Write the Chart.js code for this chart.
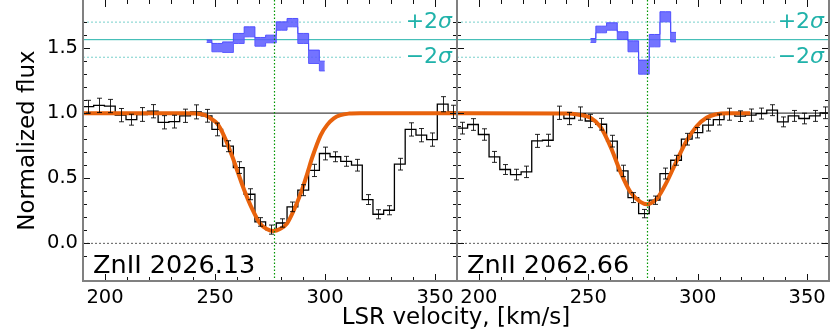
<!DOCTYPE html>
<html>
<head>
<meta charset="utf-8">
<script src="https://cdn.jsdelivr.net/npm/chart.js@4.4.1/dist/chart.umd.min.js"></script>
<style>
  html, body { margin: 0; padding: 0; background: #fff; }
  #wrap { position: relative; width: 830px; height: 332px; overflow: hidden; }
  canvas { position: absolute; top: 0; }
  #leftPanel { left: 0; }
  #rightPanel { left: 83px; }
</style>
</head>
<body>
<div id="wrap">
  <canvas id="leftPanel" width="460" height="332"></canvas>
  <canvas id="rightPanel" width="747" height="332"></canvas>
</div>
<script>
// velocity bin centres (km/s), same grid for both transitions
const velocity = [187.5, 192.4, 197.3, 202.2, 207.1, 212.0, 216.9, 221.7, 226.6, 231.5,
    236.4, 241.3, 246.2, 251.0, 255.9, 260.8, 265.7, 270.6, 275.4, 280.3,
    285.2, 290.1, 295.0, 299.9, 304.7, 309.6, 314.5, 319.4, 324.2, 329.1,
    334.0, 338.9, 343.8, 348.6, 353.5, 358.4, 363.3];

// ZnII 2026.13
const flux2026 = [1.05, 1.05, 1.06, 1.055, 0.985, 0.95, 0.99, 1.015, 0.93, 0.935,
    0.98, 1.01, 0.98, 0.875, 0.746, 0.582, 0.377, 0.164, 0.105, 0.156,
    0.28, 0.408, 0.56, 0.69, 0.665, 0.63, 0.6, 0.336, 0.223, 0.254,
    0.608, 0.875, 0.831, 0.797, 1.069, 1.01, 1.0];
const err2026 = [0.05, 0.049, 0.055, 0.051, 0.051, 0.042, 0.053, 0.051, 0.051, 0.049,
    0.051, 0.054, 0.049, 0.049, 0.042, 0.045, 0.042, 0.033, 0.035, 0.032,
    0.037, 0.042, 0.047, 0.049, 0.038, 0.038, 0.045, 0.038, 0.035, 0.035,
    0.045, 0.051, 0.051, 0.051, 0.058, 0.051, 0.05];

// ZnII 2062.66
const flux2062 = [0.885, 0.885, 0.913, 0.836, 0.664, 0.567, 0.528, 0.549, 0.787, 0.792,
    1.003, 0.959, 0.997, 0.94, 0.915, 0.785, 0.556, 0.351, 0.228, 0.331,
    0.536, 0.638, 0.80, 0.85, 0.908, 0.951, 0.992, 0.977, 0.985, 0.997,
    1.023, 0.933, 0.979, 0.959, 0.979, 1.003, 1.0];
const err2062 = [0.045, 0.045, 0.045, 0.044, 0.042, 0.038, 0.041, 0.044, 0.05, 0.046,
    0.051, 0.047, 0.051, 0.051, 0.045, 0.045, 0.044, 0.038, 0.032, 0.032,
    0.042, 0.038, 0.045, 0.04, 0.045, 0.042, 0.046, 0.041, 0.047, 0.042,
    0.042, 0.038, 0.042, 0.041, 0.042, 0.045, 0.045];

// fitted profiles
const modelVel2026 = [190, 236, 241, 245.5, 248, 251, 254, 257.9, 260.5, 263.3, 267, 270.5, 273.5,
    276.6, 279.5, 282.7, 286, 289.5, 292, 294.3, 298, 301, 304, 307, 311, 316, 360];
const model2026 = [1.0, 1.0, 0.997, 0.985, 0.96, 0.92, 0.83, 0.665, 0.54, 0.408, 0.26, 0.151, 0.11,
    0.095, 0.11, 0.151, 0.26, 0.408, 0.54, 0.665, 0.83, 0.91, 0.96, 0.985, 0.997, 1.0, 1.0];
const modelVel2062 = [190, 240, 245, 251, 255.6, 260.2, 264.7, 269.2, 273.8, 276.8,
    281.4, 285.9, 290.5, 295, 299.5, 304, 308, 314, 324];
const model2062 = [1.0, 0.997, 0.99, 0.965, 0.895, 0.741, 0.549, 0.395, 0.318, 0.3,
    0.344, 0.472, 0.638, 0.79, 0.9, 0.965, 0.99, 1.0, 1.0];

// residual bands (shifted up to 1.565)
const residVel2026 = [246.2, 251.0, 255.9, 260.8, 265.7, 270.6, 275.4, 280.3, 285.2, 290.1, 295.0, 299.9];
const residHigh2026 = [1.562, 1.536, 1.548, 1.613, 1.664, 1.582, 1.600, 1.702, 1.728, 1.613, 1.485, 1.400];
const residLow2026 = [1.544, 1.472, 1.467, 1.536, 1.587, 1.515, 1.541, 1.638, 1.664, 1.536, 1.382, 1.325];
const residVel2062 = [251.0, 255.9, 260.8, 265.7, 270.6, 275.4, 280.3, 285.2, 290.1];
const residHigh2062 = [1.574, 1.669, 1.695, 1.626, 1.556, 1.408, 1.605, 1.780, 1.621];
const residLow2062 = [1.544, 1.618, 1.638, 1.567, 1.472, 1.300, 1.510, 1.702, 1.548];

const xTickLabels = [200, 250, 300, 350];
const yTickLabels = [0.0, 0.5, 1.0, 1.5];
const xMin = 190, xMax = 360, yMin = -0.29, yMax = 1.87;
const lineCentre = 276.7;
const residMid = 1.565, residPlus = 1.70, residMinus = 1.43, residLineEnd = 335.5;

const FONT = "'DejaVu Sans', sans-serif";
Chart.defaults.font.family = FONT;
Chart.defaults.color = '#000';

const TEAL = '#20b2aa';
const ORANGE = '#e8620c';

function pts(xs, ys) {
    return xs.map((v, i) => ({x: v, y: ys[i]}));
}

function flat(yv, x0, x1) {
    return [{x: x0, y: yv}, {x: x1, y: yv}];
}

// "+2" upright, sigma italic like mathtext, right aligned at xr
function sigmaLabel(ctx, prefix, xr, yc) {
    const up = '22px ' + FONT, it = 'italic 22px ' + FONT;
    ctx.font = it;
    const ws = ctx.measureText('\u03c3').width;
    ctx.font = up;
    const wp = ctx.measureText(prefix).width;
    ctx.textAlign = 'left';
    ctx.fillText(prefix, xr - ws - wp, yc);
    ctx.font = it;
    ctx.fillText('\u03c3', xr - ws, yc);
}

// error bars, line centre, frame with inward ticks, labels
function decor(spec) {
    return {
        id: 'decor',
        afterDatasetsDraw(chart) {
            const {ctx, chartArea: a, scales: {x, y}} = chart;
            ctx.save();
            ctx.beginPath();
            ctx.rect(a.left, a.top, a.right - a.left, a.bottom - a.top);
            ctx.clip();
            ctx.strokeStyle = 'rgba(0,0,0,0.85)';
            ctx.lineWidth = 1;
            spec.vel.forEach((v, i) => {
                if (v < xMin || v > xMax) return;
                const px = Math.round(x.getPixelForValue(v)) + 0.5;
                const y1 = y.getPixelForValue(spec.flux[i] + spec.err[i]);
                const y2 = y.getPixelForValue(spec.flux[i] - spec.err[i]);
                ctx.beginPath();
                ctx.moveTo(px, y1); ctx.lineTo(px, y2);
                ctx.moveTo(px - 2.5, y1); ctx.lineTo(px + 2.5, y1);
                ctx.moveTo(px - 2.5, y2); ctx.lineTo(px + 2.5, y2);
                ctx.stroke();
            });
            // line centre
            const cx = Math.round(x.getPixelForValue(lineCentre)) + 0.5;
            ctx.strokeStyle = 'rgb(0,150,0)';
            ctx.lineWidth = 1.2;
            ctx.setLineDash([1.5, 2]);
            ctx.beginPath();
            ctx.moveTo(cx, a.top); ctx.lineTo(cx, a.bottom);
            ctx.stroke();
            ctx.setLineDash([]);
            // labels
            ctx.fillStyle = '#000';
            ctx.font = '25.5px ' + FONT;
            ctx.textAlign = 'left';
            ctx.textBaseline = 'alphabetic';
            ctx.fillText(spec.label, a.left + 10, a.bottom - 8);
            ctx.fillStyle = TEAL;
            ctx.textBaseline = 'middle';
            sigmaLabel(ctx, '+2', a.right - 5, y.getPixelForValue(residPlus));
            sigmaLabel(ctx, '\u22122', a.right - 5, y.getPixelForValue(residMinus));
            ctx.restore();
        },
        afterDraw(chart) {
            const {ctx, chartArea: a, scales: {x, y}} = chart;
            ctx.save();
            ctx.strokeStyle = '#111';
            ctx.lineWidth = 1;
            ctx.beginPath();
            x.ticks.forEach(t => {
                const v = t.value;
                if (v <= xMin || v >= xMax || v % 10 !== 0) return;
                const len = v % 50 === 0 ? 7 : 4;
                const px = Math.round(x.getPixelForValue(v)) + 0.5;
                ctx.moveTo(px, a.bottom); ctx.lineTo(px, a.bottom - len);
                ctx.moveTo(px, a.top); ctx.lineTo(px, a.top + len);
            });
            y.ticks.forEach(t => {
                const v = t.value;
                if (Math.abs(v * 10 - Math.round(v * 10)) > 1e-6) return;
                const major = Math.abs(v * 2 - Math.round(v * 2)) < 1e-6;
                const len = major ? 7 : 4;
                const py = Math.round(y.getPixelForValue(v)) + 0.5;
                ctx.moveTo(a.left, py); ctx.lineTo(a.left + len, py);
                ctx.moveTo(a.right, py); ctx.lineTo(a.right - len, py);
            });
            ctx.stroke();
            ctx.strokeStyle = '#808080';
            ctx.lineWidth = 2;
            ctx.beginPath();
            ctx.moveTo(a.left, a.top); ctx.lineTo(a.left, a.bottom);
            ctx.lineTo(a.right, a.bottom); ctx.lineTo(a.right, a.top);
            ctx.stroke();
            ctx.restore();
        }
    };
}

function makePanel(canvasId, spec) {
    const datasets = [
        {data: pts(spec.modelVel, spec.model), borderColor: ORANGE, borderWidth: 4,
            cubicInterpolationMode: 'monotone', order: 1},
        {data: pts(velocity, spec.flux), borderColor: '#000', borderWidth: 1.3,
            stepped: 'middle', order: 2},
        {data: pts(spec.residVel, spec.residHigh), borderColor: 'rgba(70,70,255,0.9)', borderWidth: 1,
            backgroundColor: 'rgba(90,90,255,0.85)', stepped: 'middle', fill: '+1', order: 3},
        {data: pts(spec.residVel, spec.residLow), borderColor: 'rgba(70,70,255,0.9)', borderWidth: 1,
            stepped: 'middle', order: 3},
        {data: flat(residMid, xMin, xMax), borderColor: TEAL, borderWidth: 1, order: 4},
        {data: flat(residPlus, xMin, residLineEnd), borderColor: 'rgba(32,178,170,0.6)', borderWidth: 1,
            borderDash: [2, 2], order: 4},
        {data: flat(residMinus, xMin, residLineEnd), borderColor: 'rgba(32,178,170,0.6)', borderWidth: 1,
            borderDash: [2, 2], order: 4},
        {data: flat(1.0, xMin, xMax), borderColor: '#444', borderWidth: 1.2, order: 5},
        {data: flat(0.0, xMin, xMax), borderColor: '#333', borderWidth: 0.8, borderDash: [2, 2], order: 5}
    ];

    return new Chart(document.getElementById(canvasId), {
        type: 'line',
        data: {datasets: datasets},
        plugins: [decor(spec)],
        options: {
            responsive: false,
            animation: false,
            events: [],
            layout: {padding: {top: 0, bottom: 0, left: 0, right: spec.padRight}},
            elements: {point: {radius: 0}, line: {fill: false}},
            plugins: {
                legend: {display: false},
                tooltip: {enabled: false},
                title: spec.xTitle ? {
                    display: true,
                    text: 'LSR velocity, [km/s]',
                    position: 'bottom',
                    color: '#000',
                    font: {size: 23, family: FONT, weight: 'normal'},
                    padding: {top: 0, bottom: 0}
                } : {display: false}
            },
            scales: {
                x: {
                    type: 'linear',
                    min: xMin,
                    max: xMax,
                    grid: {display: false, drawTicks: false},
                    border: {display: false},
                    ticks: {
                        stepSize: 10,
                        autoSkip: false,
                        maxRotation: 0,
                        padding: 5,
                        color: '#000',
                        font: {size: 19.5},
                        callback: v => xTickLabels.includes(v) ? String(v) : ''
                    },
                    afterFit: s => {
                        s.height = spec.xAxisHeight;
                        s.paddingLeft = 0;
                        s.paddingRight = 0;
                    }
                },
                y: {
                    type: 'linear',
                    min: yMin,
                    max: yMax,
                    grid: {display: false, drawTicks: false},
                    border: {display: false},
                    ticks: {
                        display: spec.yLabels,
                        stepSize: 0.1,
                        autoSkip: false,
                        padding: 5,
                        color: '#000',
                        font: {size: 19.5},
                        callback: v => yTickLabels.some(t => Math.abs(t - v) < 1e-6) ? v.toFixed(1) : ''
                    },
                    title: {
                        display: spec.yLabels,
                        text: 'Normalized flux',
                        color: '#000',
                        font: {size: 23},
                        padding: {top: 14, bottom: 0}
                    },
                    afterFit: s => {
                        s.width = spec.yAxisWidth;
                        s.paddingTop = 0;
                        s.paddingBottom = 0;
                    }
                }
            }
        }
    });
}

makePanel('leftPanel', {
    label: 'ZnII 2026.13',
    vel: velocity, flux: flux2026, err: err2026,
    modelVel: modelVel2026, model: model2026,
    residVel: residVel2026, residHigh: residHigh2026, residLow: residLow2026,
    yLabels: true, yAxisWidth: 83, xAxisHeight: 51, padRight: 3, xTitle: false
});

makePanel('rightPanel', {
    label: 'ZnII 2062.66',
    vel: velocity, flux: flux2062, err: err2062,
    modelVel: modelVel2062, model: model2062,
    residVel: residVel2062, residHigh: residHigh2062, residLow: residLow2062,
    yLabels: false, yAxisWidth: 374, xAxisHeight: 23.4, padRight: 1, xTitle: true
});
</script>
</body>
</html>
